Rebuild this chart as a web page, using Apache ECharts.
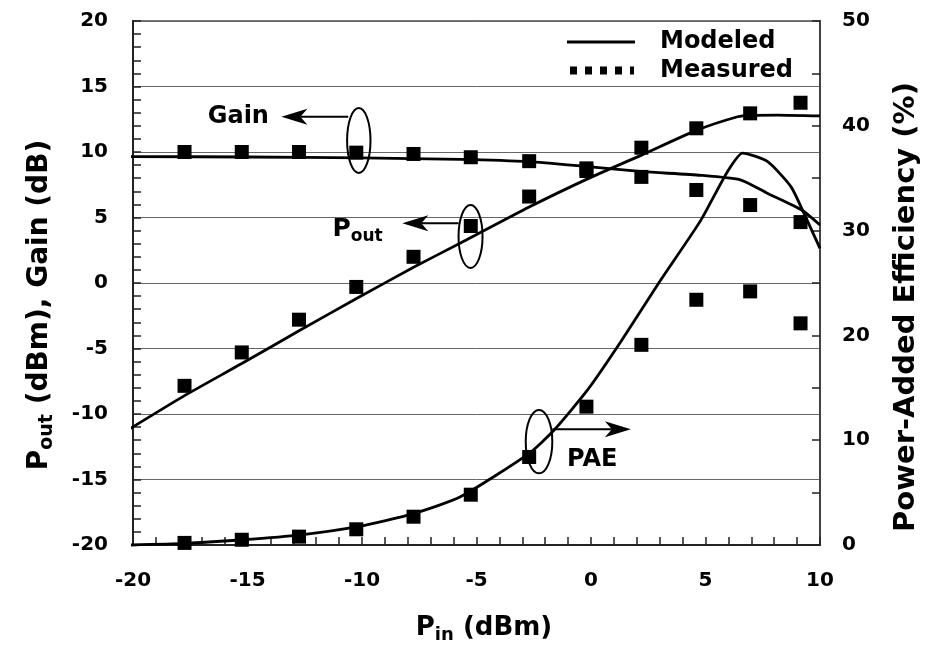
<!DOCTYPE html>
<html><head><meta charset="utf-8">
<script src="https://cdn.jsdelivr.net/npm/echarts@6/dist/echarts.min.js"></script>
<style>html,body{margin:0;padding:0;background:#fff}#c{width:927px;height:651px}</style>
</head><body><div id="c"></div>
<script>
// ---- data ----
const xTicks = [-20, -15, -10, -5, 0, 5, 10];
const pinMeasured  = [-17.75, -15.25, -12.75, -10.25, -7.75, -5.25, -2.7, -0.2, 2.2, 4.6, 6.95, 9.15];
const poutMeasured = [-7.85, -5.3, -2.8, -0.3, 2.0, 4.35, 6.6, 8.55, 10.33, 11.81, 12.95, 13.76];
const gainMeasured = [10.0, 10.0, 10.0, 9.95, 9.85, 9.6, 9.3, 8.75, 8.1, 7.1, 5.95, 4.65];
const paeMeasured  = [0.2, 0.5, 0.8, 1.5, 2.7, 4.8, 8.4, 13.2, 19.1, 23.4, 24.2, 21.15];

const pinPoutModel = [-20.2, -17.75, -15.25, -12.75, -10.2, -7.75, -5.7, -2.7, -0.15, 2.25, 4.6, 6.4, 6.95, 8.15, 10];
const poutModel    = [-11.2, -8.6, -6.15, -3.65, -1.15, 1.2, 3.05, 5.8, 7.95, 9.8, 11.65, 12.69, 12.8, 12.82, 12.75];

const pinGainModel = [-20.2, -15, -10, -5.7, -2.7, -0.15, 2.25, 4.8, 6.55, 7.7, 9.2, 10];
const gainModel    = [9.65, 9.62, 9.55, 9.44, 9.26, 8.88, 8.5, 8.22, 7.86, 6.85, 5.57, 4.43];

const pinPaeModel = [-20.1, -17.75, -15.25, -12.75, -10.2, -7.75, -5.7, -2.7, -1.6, -0.15, 1.3, 3.05, 4.8, 5.95, 6.62, 7.7, 8.73, 9.3, 10];
const paeModel    = [0, 0.15, 0.5, 0.95, 1.75, 3.0, 4.6, 8.75, 11.0, 14.8, 19.4, 25.3, 31.0, 35.6, 37.4, 36.6, 34.2, 31.65, 28.3];

const legendNames = ['Modeled', 'Measured'];

// ---- helpers ----
const zip = (xs, ys) => xs.map((x, i) => [x, ys[i]]);
const FONT = 'DejaVu Sans';
const BLACK = '#000';

const chart = echarts.init(document.getElementById('c'), null, {renderer: 'canvas'});

const tickCommon = {show: true, inside: true, length: 8, lineStyle: {color: '#222', width: 1.5}};
const labelCommon = {fontFamily: FONT, fontWeight: 'bold', fontSize: 20, color: BLACK};

const lineSeries = (name, data, yIdx) => ({
  name, type: 'line', data, yAxisIndex: yIdx, symbol: 'none', smooth: 0.2, clip: false,
  lineStyle: {color: BLACK, width: 2.8}, z: 3
});
const scatterSeries = (name, data, yIdx) => ({
  name, type: 'scatter', data, yAxisIndex: yIdx, symbol: 'rect', symbolSize: 14,
  itemStyle: {color: BLACK, opacity: 1}, z: 4
});

chart.setOption({
  animation: false,
  grid: {left: 133, right: 107, top: 21, bottom: 106, show: true, borderColor: '#777', borderWidth: 2, containLabel: false},
  xAxis: {
    type: 'value', min: xTicks[0], max: xTicks[xTicks.length - 1], interval: 5,
    axisLine: {show: true, onZero: false, lineStyle: {color: '#222', width: 2}},
    axisTick: tickCommon,
    minorTick: {show: true, splitNumber: 5, length: 8, lineStyle: {color: '#222', width: 1.5}},
    axisLabel: Object.assign({margin: 26}, labelCommon),
    splitLine: {show: false}
  },
  yAxis: [{
    type: 'value', position: 'left', min: -20, max: 20, interval: 5,
    axisLine: {show: true, onZero: false, lineStyle: {color: '#222', width: 2}},
    axisTick: tickCommon,
    minorTick: {show: true, splitNumber: 5, length: 8, lineStyle: {color: '#222', width: 1.5}},
    axisLabel: Object.assign({margin: 25}, labelCommon),
    splitLine: {show: true, lineStyle: {color: '#666', width: 1}}
  }, {
    type: 'value', position: 'right', min: 0, max: 50, interval: 10,
    axisLine: {show: true, onZero: false, lineStyle: {color: '#444', width: 2}},
    axisTick: tickCommon,
    minorTick: {show: true, splitNumber: 2, length: 8, lineStyle: {color: '#222', width: 1.5}},
    axisLabel: Object.assign({margin: 22}, labelCommon),
    splitLine: {show: false}
  }],
  series: [
    lineSeries('Gain model', zip(pinGainModel, gainModel), 0),
    lineSeries('Pout model', zip(pinPoutModel, poutModel), 0),
    lineSeries('PAE model', zip(pinPaeModel, paeModel), 1),
    scatterSeries('Gain measured', zip(pinMeasured, gainMeasured), 0),
    scatterSeries('Pout measured', zip(pinMeasured, poutMeasured), 0),
    scatterSeries('PAE measured', zip(pinMeasured, paeMeasured), 1)
  ]
});

// ---- annotations (anchored in data coordinates, left axis) ----
const px = (x, y) => chart.convertToPixel({xAxisIndex: 0, yAxisIndex: 0}, [x, y]);

function arrow(tail, tip) {
  const [x1, y1] = tail, [x2, y2] = tip;
  const dir = Math.sign(x2 - x1);
  const L = 26, H = 8, N = 19;
  return [
    {type: 'line', shape: {x1, y1, x2: x2 - dir * N, y2}, style: {stroke: BLACK, lineWidth: 2}, z: 10},
    {type: 'polygon', shape: {points: [[x2, y2], [x2 - dir * L, y2 - H], [x2 - dir * N, y2], [x2 - dir * L, y2 + H]]},
     style: {fill: BLACK}, z: 10}
  ];
}
function ellipse(c, rx, ry) {
  return {type: 'ellipse', shape: {cx: c[0], cy: c[1], rx, ry}, style: {fill: 'none', stroke: BLACK, lineWidth: 2}, z: 10};
}
const boldText = (text, x, y, size, align) => ({
  type: 'text', x, y, z: 10,
  style: {text, fill: BLACK, font: `bold ${size}px "${FONT}"`, align: align || 'center', verticalAlign: 'middle'}
});

const gEl = [];
// Gain
gEl.push(ellipse(px(-10.14, 10.88), 11.7, 32.5));
gEl.push(...arrow(px(-10.6, 12.69), px(-13.52, 12.69)));
{ const p = px(-15.4, 12.69); gEl.push(boldText('Gain', p[0], p[1], 24)); }
// Pout
gEl.push(ellipse(px(-5.26, 3.55), 12, 31.5));
gEl.push(...arrow(px(-5.78, 4.56), px(-8.24, 4.56)));
{ const p = px(-11.29, 4.05);
  gEl.push({type: 'text', x: p[0], y: p[1], z: 10, style: {
    text: '{a|P}{b|out}', fill: BLACK, align: 'left', verticalAlign: 'middle',
    rich: {a: {font: `bold 25px "${FONT}"`, lineHeight: 30}, b: {font: `bold 17px "${FONT}"`, lineHeight: 14, verticalAlign: 'bottom'}}
  }}); }
// PAE
gEl.push(ellipse(px(-2.27, -12.11), 13.3, 31.7));
gEl.push(...arrow(px(-1.685, -11.17), px(1.74, -11.17)));
{ const p = px(0.055, -13.51); gEl.push(boldText('PAE', p[0], p[1], 24)); }

// legend
gEl.push({type: 'line', shape: {x1: 567, y1: 42, x2: 635, y2: 42}, style: {stroke: BLACK, lineWidth: 2.8}, z: 10});
gEl.push({type: 'line', shape: {x1: 570, y1: 70.5, x2: 634, y2: 70.5}, style: {stroke: BLACK, lineWidth: 8, lineDash: [7, 8]}, z: 10});
gEl.push(boldText(legendNames[0], 660, 42, 24, 'left'));
gEl.push(boldText(legendNames[1], 660, 71, 24, 'left'));

// axis titles
gEl.push({type: 'text', x: 484, y: 628, z: 10, style: {
  text: '{a|P}{b|in}{a| (dBm)}', fill: BLACK, align: 'center', verticalAlign: 'middle',
  rich: {a: {font: `bold 26px "${FONT}"`, lineHeight: 32}, b: {font: `bold 18px "${FONT}"`, lineHeight: 14, verticalAlign: 'bottom'}}
}});
gEl.push({type: 'text', x: 40, y: 305, rotation: Math.PI / 2, z: 10, style: {
  text: '{a|P}{b|out}{a| (dBm), Gain (dB)}', fill: BLACK, align: 'center', verticalAlign: 'middle',
  rich: {a: {font: `bold 28px "${FONT}"`, lineHeight: 34}, b: {font: `bold 19px "${FONT}"`, lineHeight: 15, verticalAlign: 'bottom'}}
}});
gEl.push({type: 'text', x: 906, y: 307, rotation: Math.PI / 2, z: 10, style: {
  text: 'Power-Added Efficiency (%)', fill: BLACK, align: 'center', verticalAlign: 'middle',
  font: `bold 29px "${FONT}"`
}});

chart.setOption({graphic: {elements: gEl}});
</script>
</body></html>
